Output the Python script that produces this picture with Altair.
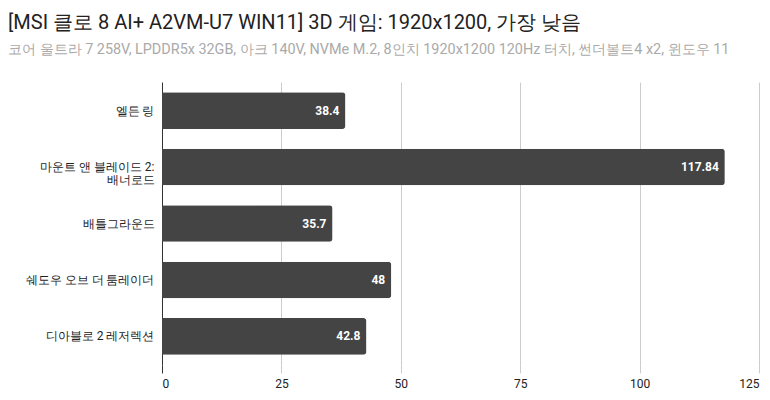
import altair as alt
import pandas as pd

games = ["엘든 링", "마운트 앤 블레이드 2: 배너로드", "배틀그라운드", "쉐도우 오브 더 툼레이더", "디아블로 2 레저렉션"]
fps = [38.4, 117.84, 35.7, 48, 42.8]
labels = ["38.4", "117.84", "35.7", "48", "42.8"]
x_ticks = [0, 25, 50, 75, 100, 125]

df = pd.DataFrame({"game": games, "fps": fps, "label": labels})

FONT = "Roboto"

y_enc = alt.Y(
    "game:N",
    sort=games,
    title=None,
    scale=alt.Scale(paddingInner=0.35, paddingOuter=0.18),
    axis=alt.Axis(
        domain=False,
        ticks=False,
        labelFontSize=12,
        labelColor="#222222",
        labelFont=FONT,
        labelPadding=8,
        labelLineHeight=13,
        minExtent=154,
        maxExtent=154,
        labelLimit=160,
        labelExpr="datum.label == '마운트 앤 블레이드 2: 배너로드' ? ['마운트 앤 블레이드 2:', '배너로드'] : datum.label",
    ),
)

bars = alt.Chart(df).mark_bar(color="#444444", cornerRadiusEnd=3).encode(
    x=alt.X(
        "fps:Q",
        title=None,
        scale=alt.Scale(domain=[0, 125], nice=False),
        axis=alt.Axis(
            values=x_ticks,
            domain=False,
            grid=True,
            gridColor=alt.condition("datum.value == 0", alt.value("#333333"), alt.value("#cccccc")),
            tickColor=alt.condition("datum.value == 0", alt.value("#333333"), alt.value("#cccccc")),
            tickSize=8,
            labelFontSize=12,
            labelColor="#222222",
            labelFont=FONT,
            labelPadding=5,
        ),
    ),
    y=y_enc,
)

text = alt.Chart(df).mark_text(
    align="right", baseline="middle", dx=-6, color="white", fontWeight="bold", fontSize=12, font=FONT
).encode(
    x="fps:Q",
    y=alt.Y("game:N", sort=games),
    text="label:N",
)

chart = (
    alt.layer(bars, text)
    .properties(
        width=597,
        height=283,
        padding={"left": 0, "top": 4, "right": 0, "bottom": 0},
        title=alt.TitleParams(
            text="[MSI 클로 8 AI+ A2VM-U7 WIN11] 3D 게임: 1920x1200, 가장 낮음",
            subtitle="코어 울트라 7 258V, LPDDR5x 32GB, 아크 140V, NVMe M.2, 8인치 1920x1200 120Hz 터치, 썬더볼트4 x2, 윈도우 11",
            anchor="start",
            frame="bounds",
            font=FONT,
            fontSize=20,
            fontWeight="normal",
            color="#222222",
            subtitleFont=FONT,
            subtitleFontSize=14.4,
            subtitleColor="#aaaaaa",
            subtitlePadding=10,
            offset=26,
        ),
    )
    .configure_view(stroke=None)
)

chart.save("out.html", embed_options={"renderer": "svg", "actions": False})
